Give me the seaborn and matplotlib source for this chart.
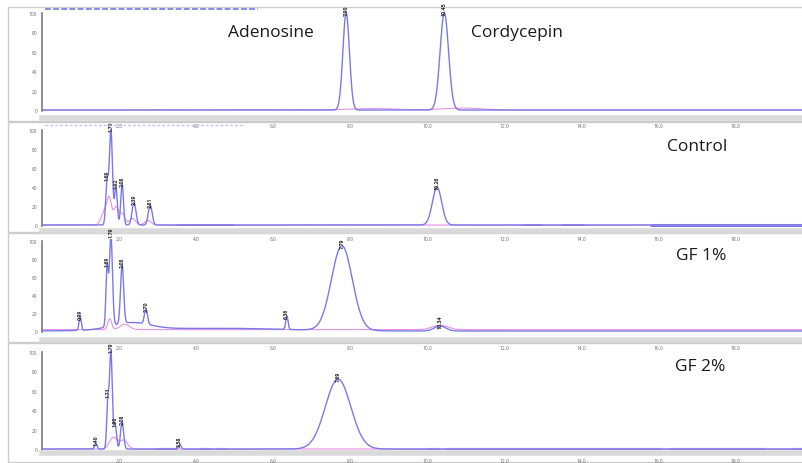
import numpy as np
import pandas as pd
import matplotlib
matplotlib.use("Agg")
import matplotlib.pyplot as plt
from matplotlib.patches import Rectangle
import seaborn as sns

sns.set_theme(style="white")
plt.rcParams['font.family'] = ['Open Sans', 'DejaVu Sans']

W, H = 803, 464
BLUE = "#7a7ae6"
PINK = "#e690e6"

# ---- peak tables: retention time (min), height (% full scale), sigma (min) ----
std_rt = [7.90, 10.45]
std_height = [100, 100]
std_sigma = [0.085, 0.11]
std_pink_rt = [8.6, 10.9]
std_pink_height = [1.5, 2.0]
std_pink_sigma = [0.6, 0.5]

ctrl_rt = [1.69, 1.79, 1.92, 2.08, 2.39, 2.81, 10.26]
ctrl_height = [45, 100, 40, 43, 24, 21, 40]
ctrl_sigma = [0.035, 0.04, 0.035, 0.035, 0.05, 0.05, 0.12]
ctrl_pink_rt = [1.62, 1.75, 1.92, 2.08, 2.35, 2.75]
ctrl_pink_height = [14, 26, 18, 12, 7, 5]
ctrl_pink_sigma = [0.08, 0.06, 0.06, 0.07, 0.08, 0.08]

gf1_rt = [0.99, 1.69, 1.79, 2.08, 2.70, 6.36, 7.79, 10.34]
gf1_height = [15, 65, 100, 65, 17, 15, 94, 5.5]
gf1_sigma = [0.03, 0.03, 0.04, 0.04, 0.04, 0.03, 0.27, 0.15]
gf1_drift_rt = [2.3, 4.5]
gf1_drift_height = [8, 3]
gf1_drift_sigma = [0.5, 1.8]
gf1_pink_rt = [1.76, 2.15, 10.34]
gf1_pink_height = [12, 6, 5]
gf1_pink_sigma = [0.05, 0.12, 0.2]

gf2_rt = [1.40, 1.71, 1.79, 1.90, 2.08, 3.58, 7.69]
gf2_height = [6, 48, 100, 25, 28, 5, 72]
gf2_sigma = [0.03, 0.03, 0.035, 0.035, 0.04, 0.03, 0.33]
gf2_pink_rt = [1.85, 2.12]
gf2_pink_height = [12, 9]
gf2_pink_sigma = [0.1, 0.1]

panel_titles = ["Control", "GF 1%", "GF 2%"]
x_ticks = [2, 4, 6, 8, 10, 12, 14, 16, 18]
y_ticks = [0, 20, 40, 60, 80, 100]

# integration-event baseline marks (start, end) in minutes
ctrl_marks = [(3.5, 5.0), (12.5, 13.0), (13.5, 14.1), (15.8, 19.8)]
gf2_marks = [(3.0, 3.5), (4.1, 4.4), (4.55, 4.8), (10.0, 10.3),
             (10.5, 16.1), (16.3, 18.8), (19.5, 19.8)]

X_MAX = (803 - 42) / 38.5
t = np.linspace(0, X_MAX, 6000)


def trace(rts, heights, sigmas):
    y = np.zeros_like(t)
    for r, h, s in zip(rts, heights, sigmas):
        y += h * np.exp(-0.5 * ((t - r) / s) ** 2)
    return y


def make_axes(top, bottom, ylo, yhi):
    ax = fig.add_axes([42 / W, 1 - bottom / H, (W - 42) / W, (bottom - top) / H])
    ax.set_xlim(0, X_MAX)
    ax.set_ylim(ylo, yhi)
    ax.patch.set_alpha(0)
    for s in ["top", "right"]:
        ax.spines[s].set_visible(False)
    ax.spines["left"].set_color("#7a7a7a")
    ax.spines["left"].set_linewidth(1.2)
    ax.spines["left"].set_bounds(-1, 100)
    ax.spines["bottom"].set_color("#dadada")
    ax.spines["bottom"].set_linewidth(4)
    ax.set_xticks(x_ticks)
    ax.set_xticklabels([f"{v:.1f}" for v in x_ticks])
    ax.set_yticks(y_ticks)
    ax.set_yticklabels([str(v) for v in y_ticks])
    ax.tick_params(axis="both", labelsize=3.5, labelcolor="#666666",
                   colors="#777777", length=2.5, width=0.8, pad=1.0)
    ax.set_xlabel("")
    ax.set_ylabel("")
    return ax


def draw(ax, blue, pink, rts, heights):
    df_b = pd.DataFrame({"time": t, "signal": blue})
    df_p = pd.DataFrame({"time": t, "signal": pink})
    sns.lineplot(data=df_p, x="time", y="signal", ax=ax, color=PINK,
                 lw=0.8, estimator=None, sort=False)
    sns.lineplot(data=df_b, x="time", y="signal", ax=ax, color=BLUE,
                 lw=1.0, estimator=None, sort=False)
    for r, h in zip(rts, heights):
        lab = blue[np.argmin(np.abs(t - r))]
        ax.text(r, lab - 2, f"{r:.2f}", rotation=90, fontsize=3.8,
                fontweight="bold", ha="center", va="bottom", color="#2a2a2a")
    ax.set_xlabel("")
    ax.set_ylabel("")


fig = plt.figure(figsize=(W / 100, H / 100), dpi=100)

# panel frames
for top, bottom in [(8, 122), (123, 233), (234, 343), (344, 463)]:
    fig.patches.append(Rectangle((8 / W, 1 - bottom / H), (W - 8) / W,
                                 (bottom - top) / H, transform=fig.transFigure,
                                 facecolor="none", edgecolor="#cccccc",
                                 lw=1.0, zorder=-5))

# standards
ax1 = make_axes(12, 119, -8.2, 102)
draw(ax1, trace(std_rt, std_height, std_sigma),
     trace(std_pink_rt, std_pink_height, std_pink_sigma), std_rt, std_height)

# control
ax2 = make_axes(130, 232, -6.3, 101)
draw(ax2, trace(ctrl_rt, ctrl_height, ctrl_sigma),
     trace(ctrl_pink_rt, ctrl_pink_height, ctrl_pink_sigma), ctrl_rt, ctrl_height)
for a, b in ctrl_marks:
    ax2.hlines(0, a, b, color=BLUE, lw=2.2 if b - a > 2 else 1.4, zorder=1)

# GF 1%
ax3 = make_axes(240, 341, -10, 102)
gf1_blue = trace(gf1_rt, gf1_height, gf1_sigma) + trace(gf1_drift_rt, gf1_drift_height, gf1_drift_sigma)
draw(ax3, gf1_blue, trace(gf1_pink_rt, gf1_pink_height, gf1_pink_sigma) + 1.5,
     gf1_rt, gf1_height)

# GF 2%
ax4 = make_axes(350, 454, -4.1, 103)
draw(ax4, trace(gf2_rt, gf2_height, gf2_sigma),
     trace(gf2_pink_rt, gf2_pink_height, gf2_pink_sigma), gf2_rt, gf2_height)
for a, b in gf2_marks:
    ax4.hlines(0, a, b, color="#a8a8f0", lw=1.6, zorder=1)

# header lines of the instrument printout
fig.add_artist(plt.Line2D([45 / W, 258 / W], [1 - 9.5 / H, 1 - 9.5 / H],
                          color="#8888e8", lw=1.4, ls=(0, (3, 1.2))))
fig.add_artist(plt.Line2D([45 / W, 245 / W], [1 - 125.5 / H, 1 - 125.5 / H],
                          color="#c4c4f0", lw=1.0, ls=(0, (2, 1.5))))

# compound / sample annotations
txt = dict(fontsize=12.5, color="#1a1a1a", ha="center", va="center")
fig.text(271 / W, 1 - 33 / H, "Adenosine", **txt)
fig.text(517 / W, 1 - 33 / H, "Cordycepin", **txt)
fig.text(697 / W, 1 - 147 / H, panel_titles[0], **txt)
fig.text(701 / W, 1 - 256 / H, panel_titles[1], **txt)
fig.text(700 / W, 1 - 367 / H, panel_titles[2], **txt)

fig.savefig("out.png", dpi=100)
